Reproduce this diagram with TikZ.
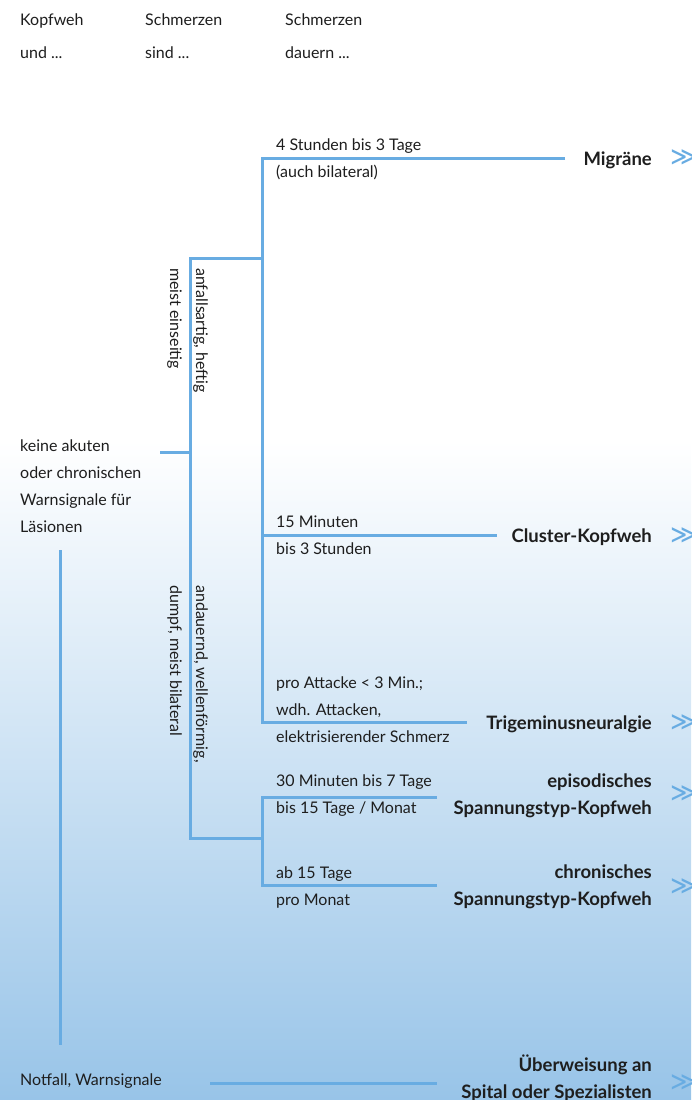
\documentclass[tikz,border=0pt]{standalone}
\usepackage{fontspec}
\setmainfont{Lato}
\newfontfamily\symfont{DejaVu Sans}
\usetikzlibrary{positioning}
\definecolor{linieblau}{RGB}{104,172,226}
\definecolor{grundblau}{RGB}{152,196,232}
\definecolor{schrift}{RGB}{30,30,30}
\tikzset{
	ast/.style={draw=linieblau, line width=3pt},
	klein/.style={anchor=base west, inner sep=0pt, align=left, text=schrift, font=\fontsize{16}{27}\selectfont},
	kopf/.style={klein, font=\fontsize{16}{33}\selectfont},
	quer/.style={klein, rotate=-90, font=\fontsize{16}{26}\selectfont},
	diagnose/.style={anchor=base east, inner sep=0pt, align=right, text=schrift, font=\fontsize{18.5}{27}\selectfont\bfseries},
	weiter/.style={anchor=west, inner sep=0pt, text=linieblau, font=\symfont\fontsize{26}{26}\selectfont}
}

\begin{document}
\begin{tikzpicture}[x=1pt, y=-1pt]
		%%%%% START %%%%%
		
		\useasboundingbox (0,0) rectangle (691,1100);
		\fill[white] (0,0) rectangle (691,440);
		\shade[top color=white, bottom color=grundblau] (0,440) rectangle (691,1100);
		
		% Kopfzeile (base = letzte Zeile)
		\node[kopf] (kopf1) at (20,58) {Kopfweh\\und ...};
		\node[kopf] (kopf2) at (145,58) {Schmerzen\\sind ...};
		\node[kopf] (kopf3) at (285,58) {Schmerzen\\dauern ...};
		
		% Ausgangslage
		\node[klein] (keine) at (20,532) {keine akuten\\oder chronischen\\Warnsignale f\"ur\\L\"asionen};
		\node[klein] (notfall) at (20,1085) {Notfall, Warnsignale};
		
		% Art der Schmerzen
		\node[quer] (anfall) at (170,268) {anfallsartig, heftig\\meist einseitig};
		\node[quer] (dauernd) at (170,585) {andauernd, wellenf\"ormig,\\dumpf, meist bilateral};
		
		% Dauer
		\node[klein] (d-mig) at (276,177) {4 Stunden bis 3 Tage\\(auch bilateral)};
		\node[klein] (d-clu) at (276,554) {15 Minuten\\bis 3 Stunden};
		\node[klein] (d-tri) at (276,742) {pro Attacke < 3 Min.;\\wdh. Attacken,\\elektrisierender Schmerz};
		\node[klein] (d-epi) at (276,813) {30 Minuten bis 7 Tage\\bis 15 Tage / Monat};
		\node[klein] (d-chr) at (276,905) {ab 15 Tage\\pro Monat};
		
		% Diagnosen
		\node[diagnose] (mig) at (652,165) {Migr\"ane};
		\node[diagnose] (clu) at (652,542) {Cluster-Kopfweh};
		\node[diagnose] (tri) at (652,729) {Trigeminusneuralgie};
		\node[diagnose] (epi) at (652,814) {episodisches\\Spannungstyp-Kopfweh};
		\node[diagnose] (chr) at (652,905) {chronisches\\Spannungstyp-Kopfweh};
		\node[diagnose] (ueb) at (652,1098) {\"Uberweisung an\\Spital oder Spezialisten};
		
		% Verweise
		\node[weiter] (w-mig) at (670,158) {≫};
		\node[weiter] (w-clu) at (670,536) {≫};
		\node[weiter] (w-tri) at (670,723) {≫};
		\node[weiter] (w-epi) at (670,794) {≫};
		\node[weiter] (w-chr) at (670,887) {≫};
		\node[weiter] (w-ueb) at (670,1083) {≫};
		
		% Verzweigungen
		\coordinate (wurzel) at (160,452);
		\coordinate (gabel) at (190,452);
		\coordinate (g-anf) at (190,258);
		\coordinate (g-and) at (190,838);
		\coordinate (o-anf) at (262,258);
		\coordinate (o-and) at (262,838);
		\coordinate (e-mig) at (565,158);
		\coordinate (e-clu) at (497,535);
		\coordinate (e-tri) at (467,722);
		\coordinate (e-epi) at (437,797);
		\coordinate (e-chr) at (437,885);
		
		\draw[ast] (wurzel) -- (gabel);
		\draw[ast] (o-anf) -- (g-anf) -- (g-and) -- (o-and);
		\draw[ast] (e-mig) -- (e-mig -| o-anf) -- (e-tri -| o-anf) -- (e-tri);
		\draw[ast] (e-clu -| o-anf) -- (e-clu);
		\draw[ast] (e-epi) -- (e-epi -| o-and) -- (e-chr -| o-and) -- (e-chr);
		
		\draw[ast] (60,550) -- (60,1045);
		\draw[ast] (210,1083) -- (437,1083);
		
		%%%%% END %%%%%
	\end{tikzpicture}
\end{document}
